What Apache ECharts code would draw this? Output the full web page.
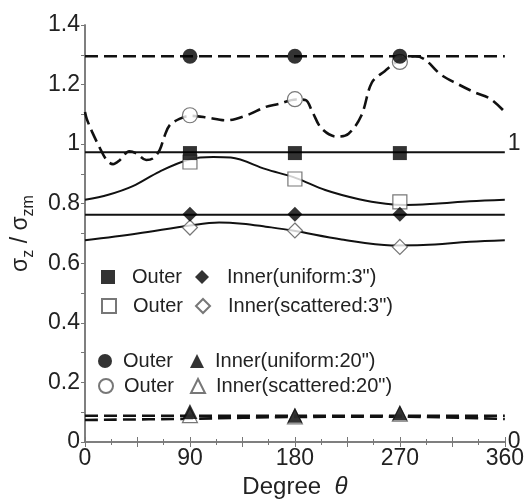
<!DOCTYPE html>
<html>
<head>
<meta charset="utf-8">
<script src="https://cdn.jsdelivr.net/npm/echarts@6/dist/echarts.min.js"></script>
<style>
  html, body { margin: 0; padding: 0; background: #fff; }
  #chart { width: 527px; height: 504px; }
</style>
</head>
<body>
<div id="chart"></div>
<script>
// measured points (theta = 90, 180, 270)
const theta = [90, 180, 270];
const outerUniform3 = [0.97, 0.97, 0.97];
const innerUniform3 = [0.765, 0.765, 0.765];
const outerScattered3 = [0.94, 0.883, 0.806];
const innerScattered3 = [0.72, 0.71, 0.655];
const outerUniform20 = [1.295, 1.295, 1.295];
const innerUniform20 = [0.102, 0.09, 0.098];
const outerScattered20 = [1.097, 1.151, 1.276];
const innerScattered20 = [0.09, 0.086, 0.095];

// analysis curves
const flatX = [0, 360];
const flatOuterU20 = [1.295, 1.295];
const flatOuterU3 = [0.973, 0.973];
const flatInnerU3 = [0.763, 0.763];
const flatInnerU20 = [0.088, 0.088];

const curveS3OuterX = [0, 20, 41, 64, 90, 110, 125, 155, 181, 206, 235, 258, 275, 300, 330, 360];
const curveS3OuterY = [0.813, 0.83, 0.859, 0.908, 0.949, 0.957, 0.955, 0.916, 0.886, 0.846, 0.815, 0.8, 0.796, 0.8, 0.808, 0.813];

const curveS3InnerX = [0, 45, 90, 115, 135, 155, 178, 220, 263, 290, 330, 360];
const curveS3InnerY = [0.677, 0.7, 0.727, 0.737, 0.733, 0.723, 0.71, 0.68, 0.66, 0.661, 0.672, 0.677];

const curveS20OuterX = [0, 1.5, 6, 13, 18.5, 24, 30, 38, 44, 52.5, 58, 64, 68, 72.5, 81, 90, 104, 121, 138, 155, 166, 181, 189, 195, 203, 216, 226, 237, 246, 257, 271, 283, 291.5, 305, 320, 334, 348, 360];
const curveS20OuterY = [1.108, 1.085, 1.042, 0.985, 0.947, 0.933, 0.947, 0.976, 0.969, 0.947, 0.952, 0.98, 1.025, 1.063, 1.085, 1.095, 1.09, 1.08, 1.096, 1.125, 1.135, 1.15, 1.148, 1.108, 1.052, 1.025, 1.035, 1.096, 1.207, 1.245, 1.285, 1.295, 1.284, 1.234, 1.201, 1.174, 1.151, 1.108];

const curveS20InnerX = [0, 90, 180, 270, 360];
const curveS20InnerY = [0.074, 0.078, 0.084, 0.085, 0.077];

const legendNames = {
  sqF: 'Outer', diF: 'Inner(uniform:3")',
  sqO: 'Outer', diO: 'Inner(scattered:3")',
  ciF: 'Outer', trF: 'Inner(uniform:20")',
  ciO: 'Outer', trO: 'Inner(scattered:20")'
};

const FONT = 'Liberation Sans, Arial, sans-serif';
const zip = (xs, ys) => xs.map((x, i) => [x, ys[i]]);

const lineSeries = (name, xs, ys, dashed) => ({
  name: name,
  type: 'line',
  data: zip(xs, ys),
  smooth: xs.length > 2 ? 0.35 : false,
  symbol: 'none',
  silent: true,
  lineStyle: { color: '#111', width: dashed ? 2.6 : 2, type: dashed ? [13, 6] : 'solid' }
});

const markSeries = (name, ys, symbol, size, filled) => ({
  name: name,
  type: 'scatter',
  data: zip(theta, ys),
  symbol: symbol,
  symbolSize: size,
  z: 5,
  itemStyle: filled
    ? { color: '#000', borderColor: '#000', borderWidth: 0 }
    : { color: '#fff', borderColor: '#555', borderWidth: 1.2 }
});

// one legend component per entry so each can sit where the original puts it
const legendItem = (name, iconCenter, rowCenter, textStart) => ({
  data: [name],
  left: iconCenter - 7,
  top: rowCenter - 11,
  itemWidth: 14,
  itemHeight: 14,
  itemGap: 0,
  padding: 0,
  selectedMode: false,
  formatter: n => legendNames[n],
  textStyle: {
    fontFamily: FONT, fontSize: 20, color: '#222',
    padding: [0, 0, 0, textStart - (iconCenter + 7 + 5)]
  }
});

const chart = echarts.init(document.getElementById('chart'));
chart.setOption({
  backgroundColor: '#fff',
  animation: false,
  grid: { left: 85, right: 20, top: 25, bottom: 57 },
  legend: [
    legendItem('sqF', 108, 278, 132),
    legendItem('diF', 202, 278, 227),
    legendItem('sqO', 108, 307, 132),
    legendItem('diO', 202, 307, 227),
    legendItem('ciF', 105, 362, 123),
    legendItem('trF', 197, 362, 215),
    legendItem('ciO', 105, 387, 123),
    legendItem('trO', 197, 387, 215)
  ],
  xAxis: [
    {
      type: 'value', min: 0, max: 360, interval: 45,
      name: '{n|Degree  }{i|θ}',
      nameLocation: 'middle', nameGap: 33,
      nameTextStyle: {
        rich: {
          n: { fontFamily: FONT, fontSize: 24, color: '#222' },
          i: { fontFamily: FONT, fontSize: 24, color: '#222', fontStyle: 'italic' }
        }
      },
      axisLine: { lineStyle: { color: '#777', width: 1.5 } },
      axisTick: { inside: true, length: 5, lineStyle: { color: '#777' } },
      minorTick: { show: true, splitNumber: 2, length: 3, lineStyle: { color: '#777' } },
      splitLine: { show: false },
      axisLabel: {
        fontFamily: FONT, fontSize: 23, color: '#222', margin: 5,
        formatter: v => (v % 90 === 0 ? String(v) : '')
      }
    },
    {
      type: 'value', min: 0, max: 360, interval: 45, position: 'top',
      axisLine: { show: true, lineStyle: { color: '#777', width: 1.5 } },
      axisTick: { inside: true, length: 5, lineStyle: { color: '#777' } },
      minorTick: { show: true, splitNumber: 2, length: 3, lineStyle: { color: '#777' } },
      splitLine: { show: false },
      axisLabel: { show: false }
    }
  ],
  yAxis: [
    {
      type: 'value', min: 0, max: 1.4, interval: 0.2,
      name: '{a|σ}{b|z}{a| / σ}{b|zm}',
      nameLocation: 'middle', nameGap: 53, nameRotate: 90,
      nameTextStyle: {
        rich: {
          a: { fontFamily: FONT, fontSize: 23, color: '#222', lineHeight: 26, verticalAlign: 'bottom' },
          b: { fontFamily: FONT, fontSize: 16, color: '#222', lineHeight: 26, verticalAlign: 'bottom', padding: [0, 0, -5, 0] }
        }
      },
      axisLine: { show: true, lineStyle: { color: '#777', width: 1.5 } },
      axisTick: { inside: false, length: 4, lineStyle: { color: '#777' } },
      splitLine: { show: false },
      axisLabel: { fontFamily: FONT, fontSize: 23, color: '#222', margin: 5 }
    },
    {
      type: 'value', min: 0, max: 1.4, interval: 0.1, position: 'right',
      axisLine: { show: true, lineStyle: { color: '#777', width: 1.5 } },
      axisTick: { inside: true, length: 4, lineStyle: { color: '#777' } },
      splitLine: { show: false },
      axisLabel: {
        fontFamily: FONT, fontSize: 23, color: '#222', margin: 3,
        formatter: v => (Math.abs(v - 1) < 1e-6 ? '1' : Math.abs(v) < 1e-6 ? '0' : '')
      }
    }
  ],
  series: [
    lineSeries('l1', flatX, flatOuterU20, true),
    lineSeries('l2', flatX, flatOuterU3, false),
    lineSeries('l3', flatX, flatInnerU3, false),
    lineSeries('l4', flatX, flatInnerU20, true),
    lineSeries('c1', curveS3OuterX, curveS3OuterY, false),
    lineSeries('c2', curveS3InnerX, curveS3InnerY, false),
    lineSeries('c3', curveS20OuterX, curveS20OuterY, true),
    lineSeries('c4', curveS20InnerX, curveS20InnerY, true),
    markSeries('sqO', outerScattered3, 'rect', 14, false),
    markSeries('diO', innerScattered3, 'diamond', 15, false),
    markSeries('ciO', outerScattered20, 'circle', 15, false),
    markSeries('trO', innerScattered20, 'triangle', 15, false),
    markSeries('sqF', outerUniform3, 'rect', 14, true),
    markSeries('diF', innerUniform3, 'diamond', 15, true),
    markSeries('ciF', outerUniform20, 'circle', 15, true),
    markSeries('trF', innerUniform20, 'triangle', 15, true)
  ]
});
</script>
</body>
</html>
